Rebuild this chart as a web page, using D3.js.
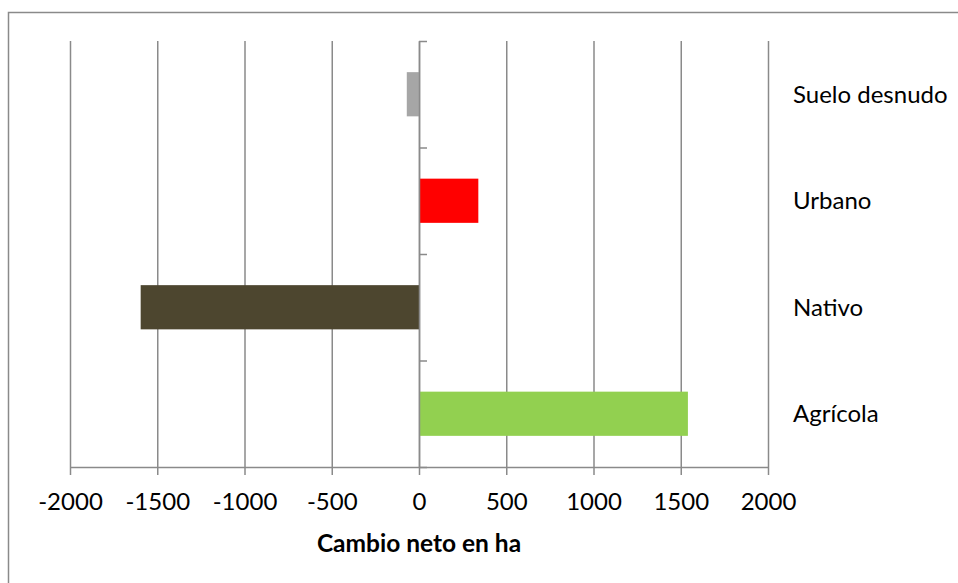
<!DOCTYPE html>
<html>
<head>
<meta charset="utf-8">
<script src="https://cdn.jsdelivr.net/npm/d3@7"></script>
<style>
  html, body { margin: 0; padding: 0; background: #fff; }
  svg { display: block; }
</style>
</head>
<body>
<svg id="chart" width="958" height="583"></svg>
<script>
// Net change in hectares by land-cover class
const categories = ["Suelo desnudo", "Urbano", "Nativo", "Agrícola"];
const values = [-70, 340, -1595, 1541];
const colors = ["#A6A6A6", "#FF0000", "#4D462F", "#92D050"];
const xTicks = [-2000, -1500, -1000, -500, 0, 500, 1000, 1500, 2000];
const xTitle = "Cambio neto en ha";

const svg = d3.select("#chart");
const font = "Lato, 'Open Sans', sans-serif";
const lineColor = "#8A8A8A";

// outer chart frame
svg.append("rect")
  .attr("x", 8.5).attr("y", 12.5)
  .attr("width", 1000).attr("height", 700)
  .attr("fill", "none")
  .attr("stroke", lineColor)
  .attr("stroke-width", 1.5);

const plot = { left: 70, right: 768, top: 41, bottom: 467 };

const x = d3.scaleLinear().domain([-2000, 2000]).range([plot.left, plot.right]);
const yBand = d3.scaleBand().domain(categories).range([plot.top, plot.bottom]).paddingInner(0.585).paddingOuter(0.2925);
const yEdges = d3.scaleLinear().domain([0, categories.length]).range([plot.top, plot.bottom]);

// vertical gridlines
svg.append("g")
  .attr("transform", `translate(0,${plot.bottom})`)
  .call(d3.axisBottom(x).tickValues(xTicks).tickSize(-(plot.bottom - plot.top)).tickFormat(""))
  .call(g => g.select(".domain").remove())
  .call(g => g.selectAll("line").attr("stroke", lineColor).attr("stroke-width", 1.5));

// bars
svg.append("g").selectAll("rect")
  .data(categories)
  .join("rect")
  .attr("x", (d, i) => x(Math.min(0, values[i])))
  .attr("width", (d, i) => Math.abs(x(values[i]) - x(0)))
  .attr("y", d => yBand(d))
  .attr("height", yBand.bandwidth())
  .attr("fill", (d, i) => colors[i]);

// vertical axis at zero with ticks between categories
svg.append("g")
  .attr("transform", `translate(${x(0)},0)`)
  .call(d3.axisRight(yEdges).tickValues(d3.range(categories.length + 1)).tickSize(8).tickSizeOuter(0).tickFormat(""))
  .call(g => g.select(".domain").attr("stroke", lineColor).attr("stroke-width", 1.5))
  .call(g => g.selectAll("line").attr("stroke", lineColor).attr("stroke-width", 1.5));

// horizontal axis (plain hyphen for negatives)
const xAxis = svg.append("g")
  .attr("transform", `translate(0,${plot.bottom})`)
  .call(d3.axisBottom(x).tickValues(xTicks).tickSize(8).tickSizeOuter(0).tickFormat(d => String(d)));
xAxis.select(".domain").attr("stroke", lineColor).attr("stroke-width", 1.5);
xAxis.selectAll("line").attr("stroke", lineColor).attr("stroke-width", 1.5);
xAxis.selectAll("text")
  .attr("y", 43).attr("dy", null)
  .attr("fill", "#000")
  .style("font-family", font)
  .style("font-size", "24px");

// axis title
svg.append("text")
  .attr("x", x(0)).attr("y", 552)
  .attr("text-anchor", "middle")
  .style("font-family", font)
  .style("font-size", "24.5px")
  .style("font-weight", "bold")
  .text(xTitle);

// category labels on the right
svg.append("g").selectAll("text")
  .data(categories)
  .join("text")
  .attr("x", 793)
  .attr("y", d => yBand(d) + yBand.bandwidth() / 2)
  .attr("dy", "0.35em")
  .style("font-family", font)
  .style("font-size", "24px")
  .attr("fill", "#000")
  .text(d => d);
</script>
</body>
</html>
